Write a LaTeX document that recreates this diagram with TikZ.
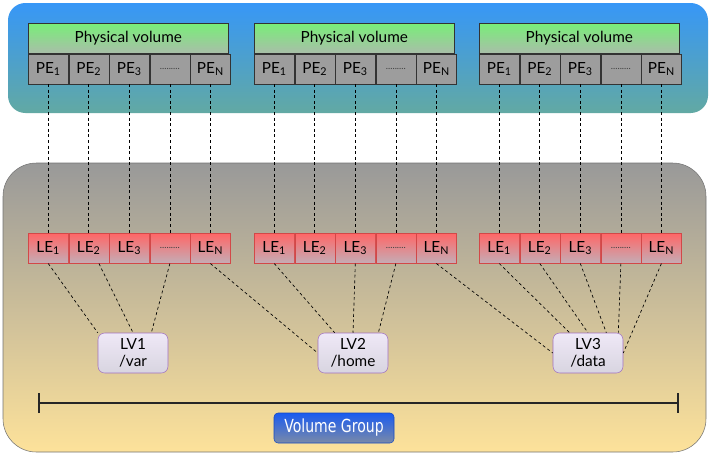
\documentclass[tikz,border=0pt]{standalone}
\usepackage{fontspec}
\setmainfont{Lato}
\newfontfamily\vgfont[FakeStretch=0.78]{DejaVu Sans}
\usepackage{tikz}
\usetikzlibrary{arrows.meta,positioning,calc}

\definecolor{pvblueTop}{HTML}{3797F7}
\definecolor{pvblueBot}{HTML}{62A9A3}
\definecolor{vgTop}{HTML}{999999}
\definecolor{vgBot}{HTML}{FDE29A}
\definecolor{hdTop}{HTML}{78EE78}
\definecolor{hdBot}{HTML}{A9BEA9}
\definecolor{peGray}{HTML}{9D9D9D}
\definecolor{leTop}{HTML}{FF6666}
\definecolor{leBot}{HTML}{C4ADB6}
\definecolor{leLine}{HTML}{D24848}
\definecolor{lvTop}{HTML}{EFE8F7}
\definecolor{lvBot}{HTML}{D8D5E0}
\definecolor{lvLine}{HTML}{A070C0}
\definecolor{btnTop}{HTML}{1A5BF0}
\definecolor{btnBot}{HTML}{7A8AA8}

\newcommand{\celldots}{{\scriptsize\color{black!75}.........}}

\begin{document}
\begin{tikzpicture}[
  x=0.75pt, y=-0.75pt,
  font=\fontsize{11.5}{13}\selectfont,
  pvhead/.style={draw=black!80, top color=hdTop, bottom color=hdBot, anchor=north west,
    minimum width=150pt, minimum height=22.5pt, inner sep=0pt, thin},
  pecell/.style={draw=black!80, fill=peGray, minimum width=30pt, minimum height=22.5pt, inner sep=0pt, thin},
  lecell/.style={draw=leLine, top color=leTop, bottom color=leBot, minimum width=30pt, minimum height=22.5pt, inner sep=0pt, thin},
  lvbox/.style={draw=lvLine, top color=lvTop, bottom color=lvBot, rounded corners=5pt, align=center,
    minimum width=52.5pt, minimum height=30pt, inner sep=0pt, font=\fontsize{11.5}{12.5}\selectfont},
  vgbox/.style={draw=btnTop!80!black, top color=btnTop, bottom color=btnBot, rounded corners=3pt,
    text=white, minimum width=90pt, minimum height=22.5pt, inner sep=0pt, font=\vgfont\fontsize{13.5}{15}\selectfont},
  link/.style={draw=black, dash pattern=on 2.2pt off 2pt, line width=0.5pt}]

\useasboundingbox (0,0) rectangle (714,455);

% panels
\draw[rounded corners=13pt, top color=pvblueTop, bottom color=pvblueBot, draw=none] (8,3) rectangle (708,113);
\draw[rounded corners=25pt, top color=vgTop, bottom color=vgBot, draw=black!55] (3,163) rectangle (706,452);

% physical volumes and logical extents
\foreach \g/\x in {1/28, 2/254, 3/479} {
  \node[pvhead] (pv\g) at (\x,23) {Physical volume};
  \node[pecell, anchor=north west] (pe\g1) at (pv\g.south west) {PE\textsubscript{1}};
  \node[pecell, right=0pt of pe\g1] (pe\g2) {PE\textsubscript{2}};
  \node[pecell, right=0pt of pe\g2] (pe\g3) {PE\textsubscript{3}};
  \node[pecell, right=0pt of pe\g3] (pe\g4) {\celldots};
  \node[pecell, right=0pt of pe\g4] (pe\g5) {PE\textsubscript{N}};

  \node[lecell, anchor=north west] (le\g1) at (\x,233) {LE\textsubscript{1}};
  \node[lecell, right=0pt of le\g1] (le\g2) {LE\textsubscript{2}};
  \node[lecell, right=0pt of le\g2] (le\g3) {LE\textsubscript{3}};
  \node[lecell, right=0pt of le\g3] (le\g4) {\celldots};
  \node[lecell, right=0pt of le\g4] (le\g5) {LE\textsubscript{N}};

  \foreach \i in {1,...,5}
    \draw[link] (pe\g\i.south) -- (le\g\i.north);
}

% logical volumes
\node[lvbox] (lv1) at (133,353) {LV1\\/var};
\node[lvbox] (lv2) at (353,353) {LV2\\/home};
\node[lvbox] (lv3) at (588,353) {LV3\\/data};

\draw[link] (le11.south) -- (lv1.north west);
\draw[link] ($(le12.south)!.5!(le12.south east)$) -- (lv1.north);
\draw[link] (le14.south) -- ($(lv1.north west)!.76!(lv1.north east)$);
\draw[link] (le15.south) -- (lv2.west);

\draw[link] (le21.south) -- ($(lv2.north west)!.24!(lv2.north east)$);
\draw[link] (le23.south) -- (lv2.north);
\draw[link] (le24.south) -- ($(lv2.north west)!.86!(lv2.north east)$);
\draw[link] (le25.south) -- (lv3.west);

\draw[link] (le31.south) -- ($(lv3.north west)!.24!(lv3.north east)$);
\draw[link] (le32.south) -- (lv3.north);
\draw[link] (le33.south) -- ($(lv3.north west)!.76!(lv3.north east)$);
\draw[link] (le34.south) -- ($(lv3.north west)!.93!(lv3.north east)$);
\draw[link] (le35.south) -- (lv3.east);

% volume group span
\coordinate (vgl) at (38,403);
\coordinate (vgr) at (679,403);
\draw[{Bar[width=15pt]}-{Bar[width=15pt]}, line width=1.3pt, black!85] (vgl) -- (vgr);
\node[vgbox] (vg) at (334,428) {Volume Group};

\end{tikzpicture}
\end{document}
